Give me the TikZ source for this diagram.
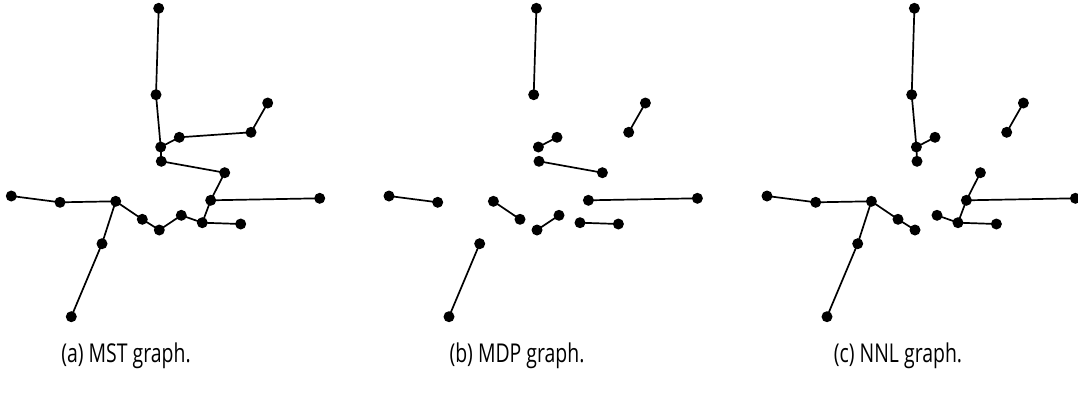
\documentclass[tikz,border=0pt]{standalone}
\usepackage{fontspec}
\setmainfont{Open Sans}
\newfontfamily\capfont[FakeStretch=0.75]{Open Sans}
\begin{document}
\begin{tikzpicture}[x=1bp,y=-1bp,
  pt/.style={circle,fill=black,inner sep=0pt,minimum size=11bp},
  edge/.style={line width=1.7bp,black},
  captext/.style={font=\capfont\fontsize{26}{30}\selectfont,inner sep=0pt}]
\useasboundingbox (0,0) rectangle (1078,399);
\foreach \p/\o in {a/0,b/377.7,c/755.7}{
  \foreach \i/\x/\y in {1/158.7/8.3,2/156/94.7,3/160.7/147,4/179.3/137.3,5/251/132.3,
     6/267.7/103,7/161.3/161.3,8/224.7/172.7,9/210.7/200.3,10/319.7/198.3,
     11/202.3/222.7,12/240.7/224,13/181.3/215.3,14/159.3/230,15/142.3/219.3,
     16/115.7/201.3,17/60/202.3,18/11.3/196,19/102/243.7,20/71.3/316.7}{
    \node[pt] (\p\i) at (\x+\o,\y) {};
  }
}
% (a) MST
\foreach \s/\t in {1/2,2/3,3/4,4/5,5/6,3/7,7/8,8/9,9/10,9/11,11/12,11/13,13/14,14/15,15/16,16/17,17/18,16/19,19/20}
  \draw[edge] (a\s.center) -- (a\t.center);
% (b) MDP
\foreach \s/\t in {1/2,3/4,5/6,7/8,9/10,11/12,13/14,15/16,17/18,19/20}
  \draw[edge] (b\s.center) -- (b\t.center);
% (c) NNL
\foreach \s/\t in {1/2,2/3,3/4,3/7,5/6,8/9,9/10,9/11,11/12,11/13,14/15,15/16,16/17,17/18,16/19,19/20}
  \draw[edge] (c\s.center) -- (c\t.center);
\node[captext] (capa) at (126,356) {(a) MST graph.};
\node[captext] (capb) at (517,356) {(b) MDP graph.};
\node[captext] (capc) at (898,356) {(c) NNL graph.};
\end{tikzpicture}
\end{document}
